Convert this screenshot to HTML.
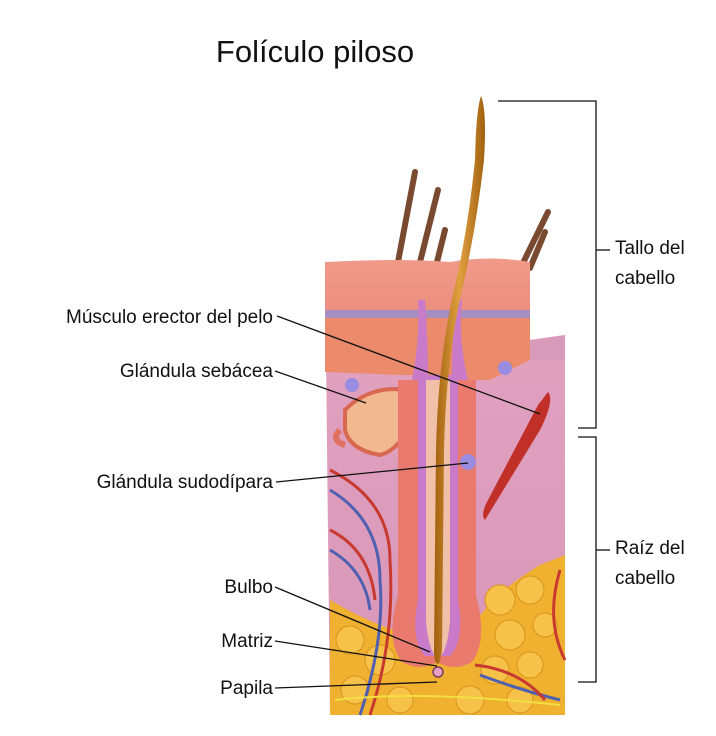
<!DOCTYPE html>
<html><head><meta charset="utf-8"><style>
body{margin:0;background:#fff;}
svg{display:block}
text{font-family:"Liberation Sans",sans-serif;fill:#111}
</style></head><body>
<svg width="716" height="736" viewBox="0 0 716 736" xmlns="http://www.w3.org/2000/svg">
<defs>
<linearGradient id="epi" x1="0" y1="0" x2="0" y2="1"><stop offset="0" stop-color="#f19a8a"/><stop offset="1" stop-color="#ec8f80"/></linearGradient>
<linearGradient id="derm" x1="0" y1="0" x2="0" y2="1"><stop offset="0" stop-color="#e3a3c0"/><stop offset="1" stop-color="#d896b8"/></linearGradient>
<linearGradient id="hair" x1="0" y1="0" x2="1" y2="0"><stop offset="0" stop-color="#a0600f"/><stop offset="0.5" stop-color="#e0a040"/><stop offset="1" stop-color="#a0600f"/></linearGradient>
</defs>
<text x="315" y="62" font-size="31" text-anchor="middle">Folículo piloso</text>
<g stroke="#7a4a30" stroke-width="6" stroke-linecap="round">
<line x1="398" y1="262" x2="415" y2="172"/>
<line x1="420" y1="262" x2="438" y2="190"/>
<line x1="437" y1="262" x2="445" y2="230"/>
<line x1="522" y1="265" x2="548" y2="212"/>
<line x1="530" y1="268" x2="545" y2="232"/>
</g>
<path d="M325 262 L530 262 L530 340 L565 335 L565 715 L330 715 Z" fill="url(#derm)"/>
<path d="M325 262 Q400 258 450 262 Q490 255 530 262 L530 312 L325 312 Z" fill="url(#epi)"/>
<path d="M325 310 L530 310 L530 318 L325 318 Z" fill="#a68ec0"/>
<path d="M325 318 L530 318 L530 360 L490 380 L460 380 L430 375 L400 375 L325 372 Z" fill="#ec8a6c"/>
<path d="M530 340 L565 335 L565 360 L530 360 Z" fill="#d79ab8"/>
<path d="M330 600 Q380 630 430 640 L460 650 Q480 600 540 565 L565 555 L565 715 L330 715 Z" fill="#f0b030"/>
<g fill="#f6c24a" stroke="#d8941a" stroke-width="1">
<circle cx="350" cy="640" r="14"/><circle cx="380" cy="660" r="15"/><circle cx="355" cy="690" r="14"/><circle cx="400" cy="700" r="13"/>
<circle cx="500" cy="600" r="15"/><circle cx="530" cy="590" r="14"/><circle cx="510" cy="635" r="15"/><circle cx="545" cy="625" r="12"/><circle cx="495" cy="670" r="14"/><circle cx="530" cy="665" r="13"/><circle cx="470" cy="700" r="14"/><circle cx="520" cy="700" r="13"/>
</g>
<g fill="none" stroke-width="3">
<path d="M330 470 Q390 500 390 560 Q395 640 370 715" stroke="#c83a30"/>
<path d="M330 490 Q380 520 380 580 Q385 640 360 715" stroke="#5060b0"/>
<path d="M330 530 Q370 550 375 600" stroke="#c83a30"/>
<path d="M330 550 Q365 570 370 610" stroke="#5060b0"/>
<path d="M480 675 Q520 690 560 700" stroke="#5060b0"/>
<path d="M475 665 Q520 670 545 700" stroke="#c83a30"/>
<path d="M560 570 Q545 620 565 660" stroke="#c83a30"/>
</g>
<path d="M335 700 Q420 690 560 705" stroke="#f2e040" stroke-width="2" fill="none"/>
<path d="M345 410 Q370 385 405 390 L412 420 Q400 450 380 455 Q350 450 345 430 Z" fill="#f2b890" stroke="#d86850" stroke-width="4"/>
<path d="M340 430 Q330 440 345 445" stroke="#e07060" stroke-width="6" fill="none"/>
<!-- follicle upper walls in epidermis -->
<path d="M418 300 Q420 340 412 380 L468 380 Q458 340 462 300 L455 300 Q452 340 452 380 L428 380 Q428 340 425 300 Z" fill="#c97ac8"/>
<path d="M398 380 L398 595 Q385 640 402 662 Q420 672 437 662 Q455 672 472 662 Q488 640 476 595 L476 380 Z" fill="#ea7a6e"/>
<path d="M418 375 L418 600 Q410 640 425 656 L450 656 Q465 640 458 600 L458 375 Z" fill="#c97ac8"/>
<path d="M426 380 L426 620 Q428 650 438 660 Q448 650 450 620 L450 380 Z" fill="#f0c0a8"/>
<!-- hair shaft -->
<path d="M481 96 Q487 110 484 160 Q476 230 462 290 Q446 360 444 450 L442 650 Q440 664 438 664 Q434 664 434 650 L436 450 Q438 360 454 290 Q468 230 475 160 Q476 110 481 96 Z" fill="url(#hair)"/>
<circle cx="438" cy="672" r="5" fill="#e8a0c0" stroke="#7a4060" stroke-width="1.5"/>
<circle cx="468" cy="462" r="8" fill="#9a8ce0"/>
<circle cx="352" cy="385" r="7" fill="#9a8ce0"/>
<circle cx="505" cy="368" r="7" fill="#9a8ce0"/>
<path d="M548 392 Q555 400 540 430 L485 520 Q480 515 488 500 L538 405 Z" fill="#c03028"/>
<g stroke="#111" stroke-width="1.3" fill="none">
<line x1="277" y1="316" x2="540" y2="414"/>
<line x1="275" y1="371" x2="366" y2="403"/>
<line x1="276" y1="482" x2="468" y2="463"/>
<line x1="275" y1="587" x2="430" y2="652"/>
<line x1="275" y1="641" x2="437" y2="666"/>
<line x1="275" y1="688" x2="437" y2="682"/>
<polyline points="498,101 596,101 596,428 578,428"/>
<polyline points="578,437 596,437 596,682 578,682"/>
<line x1="596" y1="250" x2="610" y2="250"/>
<line x1="596" y1="550" x2="610" y2="550"/>
</g>
<g font-size="19">
<text x="273" y="323" text-anchor="end">Músculo erector del pelo</text>
<text x="273" y="377" text-anchor="end">Glándula sebácea</text>
<text x="273" y="488" text-anchor="end">Glándula sudodípara</text>
<text x="273" y="593" text-anchor="end">Bulbo</text>
<text x="273" y="647" text-anchor="end">Matriz</text>
<text x="273" y="694" text-anchor="end">Papila</text>
<text x="615" y="254">Tallo del</text>
<text x="615" y="284">cabello</text>
<text x="615" y="554">Raíz del</text>
<text x="615" y="584">cabello</text>
</g>
</svg>
</body></html>
